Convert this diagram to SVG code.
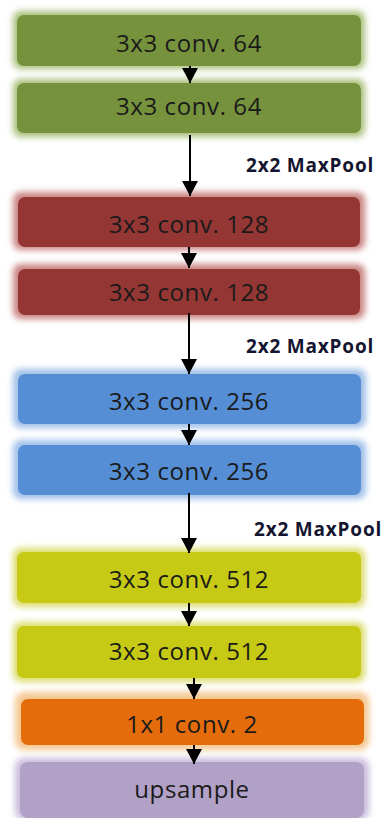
<svg xmlns="http://www.w3.org/2000/svg" width="385" height="818" viewBox="0 0 385 818">
  <style>
    .lbl { font-family: "Open Sans", "Liberation Sans", sans-serif; font-size: 24px; letter-spacing: 0.6px; fill: #1a1a1a; text-anchor: middle; }
    .pool { font-family: "Open Sans", "Liberation Sans", sans-serif; font-size: 19px; letter-spacing: 0.8px; font-weight: bold; fill: #151530; }
    .conn { stroke: #000; stroke-width: 2; fill: none; }
    .glow { filter: url(#soft); }
  </style>
  <defs>
    <filter id="soft" x="-10%" y="-40%" width="120%" height="180%">
      <feGaussianBlur stdDeviation="3"/>
    </filter>
    <!-- arrowhead drawn along +x, rotated by orient="auto" -->
    <marker id="ah" markerWidth="15" markerHeight="16" refX="15" refY="8" orient="auto" markerUnits="userSpaceOnUse" viewBox="0 0 15 16">
      <path d="M0,0 L15,8 L0,16 Z" fill="#000"/>
    </marker>
  </defs>

  <rect width="385" height="818" fill="#fff"/>

  <!-- conv 64 block -->
  <g id="conv64a">
    <rect class="glow" x="13" y="11" width="352" height="58" rx="8" fill="#a9c07a"/>
    <rect x="17" y="15" width="344" height="51" rx="7" fill="#76923c"/>
    <text class="lbl" x="189" y="52">3x3 conv. 64</text>
  </g>
  <g id="conv64b">
    <rect class="glow" x="13" y="79" width="352" height="58" rx="8" fill="#a9c07a"/>
    <rect x="17" y="83" width="344" height="50" rx="7" fill="#76923c"/>
    <text class="lbl" x="189" y="115">3x3 conv. 64</text>
  </g>

  <!-- conv 128 block -->
  <g id="conv128a">
    <rect class="glow" x="13" y="192" width="352" height="58" rx="8" fill="#c98583"/>
    <rect x="18" y="197" width="342" height="50" rx="7" fill="#943634"/>
    <text class="lbl" x="189" y="233">3x3 conv. 128</text>
  </g>
  <g id="conv128b">
    <rect class="glow" x="13" y="264" width="352" height="55" rx="8" fill="#c98583"/>
    <rect x="18" y="269" width="342" height="46" rx="7" fill="#943634"/>
    <text class="lbl" x="189" y="301">3x3 conv. 128</text>
  </g>

  <!-- conv 256 block -->
  <g id="conv256a">
    <rect class="glow" x="13" y="369" width="353" height="59" rx="8" fill="#9fbfe8"/>
    <rect x="18" y="374" width="343" height="50" rx="7" fill="#558ed5"/>
    <text class="lbl" x="189" y="410">3x3 conv. 256</text>
  </g>
  <g id="conv256b">
    <rect class="glow" x="13" y="440" width="353" height="59" rx="8" fill="#9fbfe8"/>
    <rect x="18" y="445" width="343" height="50" rx="7" fill="#558ed5"/>
    <text class="lbl" x="189" y="480">3x3 conv. 256</text>
  </g>

  <!-- conv 512 block -->
  <g id="conv512a">
    <rect class="glow" x="13" y="548" width="352" height="59" rx="8" fill="#dcdd6e"/>
    <rect x="17" y="552" width="344" height="51" rx="7" fill="#c7ca14"/>
    <text class="lbl" x="189" y="588">3x3 conv. 512</text>
  </g>
  <g id="conv512b">
    <rect class="glow" x="13" y="622" width="352" height="60" rx="8" fill="#dcdd6e"/>
    <rect x="17" y="626" width="344" height="52" rx="7" fill="#c7ca14"/>
    <text class="lbl" x="189" y="660">3x3 conv. 512</text>
  </g>

  <!-- 1x1 conv -->
  <g id="conv1x1">
    <rect class="glow" x="15" y="692" width="354" height="58" rx="9" fill="#f5c891"/>
    <rect x="21" y="699" width="343" height="46" rx="7" fill="#e46c0a"/>
    <text class="lbl" x="192" y="733">1x1 conv. 2</text>
  </g>

  <!-- upsample -->
  <g id="upsample">
    <rect class="glow" x="15" y="758" width="354" height="62" rx="9" fill="#c9bcdb"/>
    <rect x="20" y="762" width="344" height="56" rx="8" fill="#b2a1c7"/>
    <text class="lbl" x="192" y="798">upsample</text>
  </g>

  <!-- connectors -->
  <g id="connectors">
    <line class="conn" x1="190" y1="66" x2="190" y2="83" marker-end="url(#ah)"/>
    <line class="conn" x1="190" y1="135" x2="190" y2="196" marker-end="url(#ah)"/>
    <line class="conn" x1="189" y1="247" x2="189" y2="268" marker-end="url(#ah)"/>
    <line class="conn" x1="189" y1="313" x2="189" y2="374" marker-end="url(#ah)"/>
    <line class="conn" x1="189" y1="424" x2="189" y2="445" marker-end="url(#ah)"/>
    <line class="conn" x1="189" y1="493" x2="189" y2="553" marker-end="url(#ah)"/>
    <line class="conn" x1="189" y1="603" x2="189" y2="626" marker-end="url(#ah)"/>
    <line class="conn" x1="194" y1="678" x2="194" y2="699" marker-end="url(#ah)"/>
    <line class="conn" x1="194" y1="745" x2="194" y2="764" marker-end="url(#ah)"/>
    <text class="pool" x="246" y="172">2x2 MaxPool</text>
    <text class="pool" x="246" y="353">2x2 MaxPool</text>
    <text class="pool" x="254" y="536">2x2 MaxPool</text>
  </g>
</svg>
